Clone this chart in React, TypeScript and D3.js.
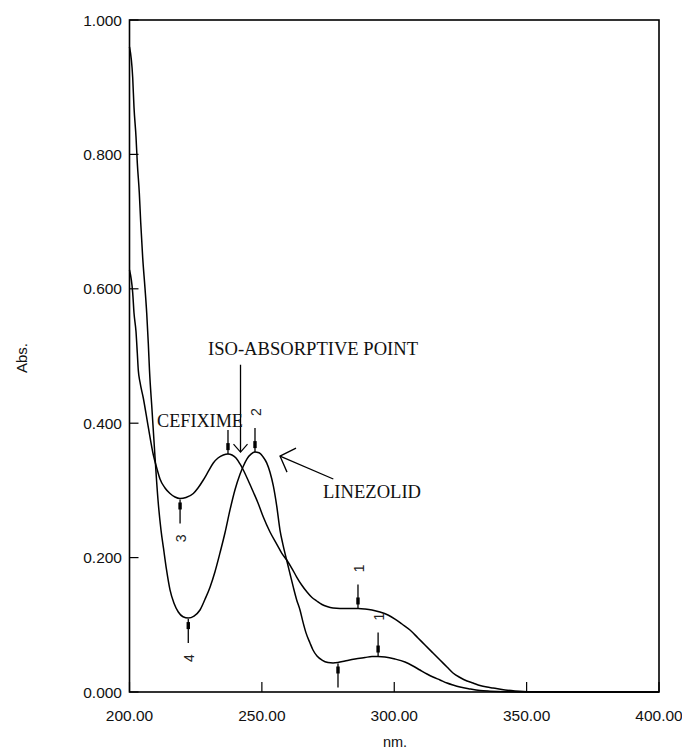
import React from 'react';
import * as d3 from 'd3';

// Linezolid spectrum (starts high at 200 nm)
const linezolidWl = [200.0, 201.21, 201.7, 202.46, 202.95, 203.7, 204.23, 204.99, 205.85, 206.5, 207.1, 207.55, 208.5, 209.63, 210.76, 211.9, 212.84, 213.98, 215.3, 216.81, 218.43, 220.21, 222.21, 224.36, 226.63, 228.52, 230.41, 232.29, 234.18, 236.07, 237.96, 239.85, 241.74, 242.98, 244.38, 245.89, 247.4, 248.91, 250.42, 251.82, 253.07, 254.31, 255.6, 256.84, 257.98, 259.38, 260.62, 261.87, 263.15, 264.4, 265.53, 266.67, 268.17, 269.31, 270.82, 272.71, 274.98, 276.87, 278.75, 281.4, 285.17, 288.95, 291.59, 293.86, 296.5, 300.28, 304.06, 307.08, 309.72, 312.37, 314.63, 317.28, 319.92, 322.19, 324.83, 328.61, 332.39, 336.17, 341.83, 351.28, 400.0];
const linezolidAbs = [0.96, 0.914, 0.87, 0.826, 0.787, 0.743, 0.699, 0.646, 0.601, 0.564, 0.519, 0.479, 0.42, 0.35, 0.286, 0.241, 0.214, 0.182, 0.152, 0.132, 0.119, 0.112, 0.11, 0.113, 0.122, 0.138, 0.156, 0.179, 0.207, 0.237, 0.271, 0.301, 0.324, 0.336, 0.347, 0.354, 0.357, 0.356, 0.35, 0.341, 0.327, 0.307, 0.277, 0.241, 0.219, 0.196, 0.176, 0.156, 0.137, 0.122, 0.104, 0.088, 0.073, 0.0625, 0.0536, 0.0476, 0.0439, 0.0432, 0.0439, 0.0461, 0.0491, 0.0513, 0.0528, 0.0528, 0.0521, 0.0491, 0.0446, 0.0387, 0.0327, 0.0268, 0.0223, 0.0179, 0.0134, 0.0104, 0.0074, 0.0045, 0.0022, 0.0012, 0.0004, 0.0, 0.0];

// Cefixime spectrum
const cefiximeWl = [200.0, 201.21, 201.7, 202.46, 202.95, 203.32, 203.97, 205.21, 207.1, 208.99, 210.39, 211.52, 213.41, 215.3, 217.19, 219.07, 221.34, 224.1, 225.87, 227.88, 229.65, 231.65, 233.43, 235.43, 237.2, 238.72, 240.23, 241.74, 242.98, 244.76, 246.76, 248.54, 250.54, 253.07, 255.6, 257.49, 259.38, 261.26, 263.15, 265.04, 267.04, 268.93, 270.71, 272.71, 274.6, 276.87, 279.51, 283.29, 286.31, 288.95, 291.59, 294.61, 297.63, 300.28, 302.92, 305.94, 308.97, 311.61, 314.63, 317.28, 319.92, 322.19, 324.83, 327.48, 329.74, 332.39, 335.03, 337.3, 341.83, 345.61, 351.28, 400.0];
const cefiximeAbs = [0.628, 0.594, 0.564, 0.536, 0.504, 0.479, 0.461, 0.4375, 0.394, 0.353, 0.332, 0.317, 0.3036, 0.2954, 0.2902, 0.2879, 0.2894, 0.2954, 0.3036, 0.3155, 0.3274, 0.3408, 0.3482, 0.3527, 0.3542, 0.3527, 0.3482, 0.3393, 0.3304, 0.3155, 0.2976, 0.2813, 0.2604, 0.2381, 0.2202, 0.2068, 0.1964, 0.1845, 0.1711, 0.1592, 0.1488, 0.1406, 0.1354, 0.1302, 0.1272, 0.125, 0.1243, 0.1243, 0.1243, 0.1235, 0.122, 0.119, 0.1146, 0.1086, 0.1012, 0.0923, 0.0804, 0.0699, 0.058, 0.0476, 0.0372, 0.0283, 0.0216, 0.0164, 0.0134, 0.0097, 0.0074, 0.006, 0.003, 0.0015, 0.0003, 0.0];

// Peak / valley pick markers
const markerWl = [237.2, 247.4, 219.1, 222.2, 286.3, 293.9, 278.75];
const markerAbs = [0.354, 0.357, 0.288, 0.11, 0.1243, 0.0528, 0.0439];
const markerDir = ['down', 'down', 'up', 'up', 'down', 'down', 'up'];
const markerLabel = ['', '2', '3', '4', '1', '1', ''];

const xTicks = [200, 250, 300, 350, 400];
const yTicks = [0, 0.2, 0.4, 0.6, 0.8, 1.0];

export default function App() {
  const W = 682, H = 751;
  const left = 129.5, right = 659, top = 20, bottom = 692;
  const x = d3.scaleLinear().domain([200, 400]).range([left, right]);
  const y = d3.scaleLinear().domain([0, 1]).range([bottom, top]);

  const mk = (wl: number[], ab: number[]) =>
    d3.line<[number, number]>()
      .x(d => x(d[0]))
      .y(d => y(d[1]))
      .curve(d3.curveMonotoneX)(wl.map((w, i) => [w, ab[i]] as [number, number])) || '';

  const sans = "'Liberation Sans', Arial, sans-serif";
  const serif = "'Liberation Serif', 'Times New Roman', serif";

  // annotation anchors (data coordinates)
  const isoX = x(241.93);
  const isoTop = y(0.487);
  const isoTip = y(0.357);
  const lzTail: [number, number] = [x(276.98), y(0.317)];
  const lzTip: [number, number] = [x(256.85), y(0.351)];

  return (
    <svg width={W} height={H} style={{ position: 'absolute', left: 0, top: 0, background: '#fff' }}>
      <rect x={0} y={0} width={W} height={H} fill="#fff" />
      {/* curves */}
      <path d={mk(linezolidWl, linezolidAbs)} fill="none" stroke="#000" strokeWidth={1.5} />
      <path d={mk(cefiximeWl, cefiximeAbs)} fill="none" stroke="#000" strokeWidth={1.5} />

      {/* frame */}
      <rect x={left} y={top} width={right - left} height={bottom - top} fill="none" stroke="#000" strokeWidth={1.6} />

      {/* y ticks */}
      {yTicks.map(t => (
        <g key={'y' + t}>
          <line x1={left} x2={left + 9} y1={y(t)} y2={y(t)} stroke="#000" strokeWidth={1.2} />
          <text x={122} y={y(t)} dy="0.36em" textAnchor="end" fontFamily={sans} fontSize={15.5} fill="#111">
            {t.toFixed(3)}
          </text>
        </g>
      ))}
      {/* x ticks */}
      {xTicks.map(t => (
        <g key={'x' + t}>
          <line x1={x(t)} x2={x(t)} y1={bottom} y2={bottom - 10} stroke="#000" strokeWidth={1.2} />
          <text x={x(t)} y={721} textAnchor="middle" fontFamily={sans} fontSize={15.5} fill="#111">
            {t.toFixed(2)}
          </text>
        </g>
      ))}
      <text x={395} y={747} textAnchor="middle" fontFamily={sans} fontSize={14.5} fill="#111">nm.</text>
      <text transform={`translate(22,358) rotate(-90)`} textAnchor="middle" dy="0.35em" fontFamily={sans} fontSize={15} fill="#111">Abs.</text>

      {/* markers */}
      {markerWl.map((w, i) => {
        const px = x(w);
        const py = y(markerAbs[i]);
        const down = markerDir[i] === 'down';
        const y1 = down ? py - 24 : py + 1;
        const y2 = down ? py : py + 25;
        const ry = down ? py - 11 : py + 4;
        const ly = down ? py - 40 : py + 40;
        return (
          <g key={'m' + i}>
            <line x1={px} x2={px} y1={y1} y2={y2} stroke="#000" strokeWidth={1.3} />
            <rect x={px - 1.7} y={ry} width={3.4} height={7} fill="#000" />
            {markerLabel[i] && (
              <text transform={`translate(${px + 1},${ly}) rotate(-90)`} textAnchor="middle" dy="0.35em"
                fontFamily={sans} fontSize={14} fill="#222">{markerLabel[i]}</text>
            )}
          </g>
        );
      })}

      {/* annotations */}
      <text x={208} y={355} fontFamily={serif} fontSize={18} textLength={210} lengthAdjust="spacingAndGlyphs" fill="#111">ISO-ABSORPTIVE POINT</text>
      <line x1={isoX} x2={isoX} y1={isoTop} y2={isoTip} stroke="#000" strokeWidth={1.3} />
      <polyline points={`${isoX - 7},${isoTip - 8} ${isoX},${isoTip} ${isoX + 7},${isoTip - 8}`} fill="none" stroke="#000" strokeWidth={1.2} />

      <text x={157} y={427} fontFamily={serif} fontSize={18} textLength={86} lengthAdjust="spacingAndGlyphs" fill="#111">CEFIXIME</text>

      <text x={323} y={498} fontFamily={serif} fontSize={18} textLength={98} lengthAdjust="spacingAndGlyphs" fill="#111">LINEZOLID</text>
      <line x1={lzTail[0]} y1={lzTail[1]} x2={lzTip[0]} y2={lzTip[1]} stroke="#000" strokeWidth={1.3} />
      <polyline points={`${lzTip[0] + 16},${lzTip[1] - 8} ${lzTip[0]},${lzTip[1]} ${lzTip[0] + 7},${lzTip[1] + 16}`} fill="none" stroke="#000" strokeWidth={1.3} />
    </svg>
  );
}
